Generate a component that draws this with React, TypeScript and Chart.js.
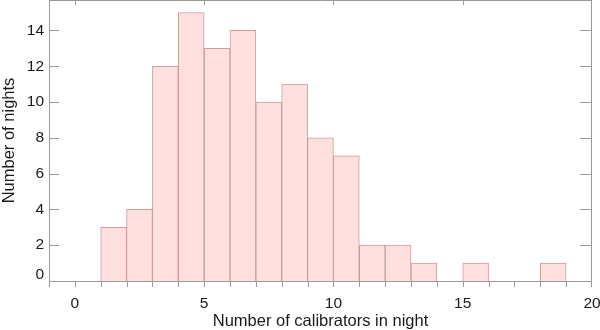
import React, { useEffect, useRef } from "react";
import { Chart, registerables } from "chart.js";

Chart.register(...registerables);

const binStarts = [1, 2, 3, 4, 5, 6, 7, 8, 9, 10, 11, 12, 13, 14, 15, 16, 17, 18];
const counts = [3, 4, 12, 15, 13, 14, 10, 11, 8, 7, 2, 2, 1, 0, 1, 0, 0, 1];
const xTickValues = [0, 5, 10, 15, 20];
const yTickValues = [0, 2, 4, 6, 8, 10, 12, 14];
const xTitle = "Number of calibrators in night";
const yTitle = "Number of nights";

const AXIS_COLOR = "#9a9a9a";
const TEXT_COLOR = "#1a1a1a";
const FONT = "'Liberation Sans', Arial, Helvetica, sans-serif";
const TICK_SIZE = 15.5;

const framePlugin = {
  id: "frameTicks",
  afterDatasetsDraw(chart: any) {
    const { ctx, chartArea } = chart;
    const xs = chart.scales.x;
    const ys = chart.scales.y;
    const { left, right, top, bottom } = chartArea;
    ctx.save();
    ctx.strokeStyle = AXIS_COLOR;
    ctx.lineWidth = 1;
    ctx.beginPath();
    ctx.moveTo(Math.round(left) + 0.5, top);
    ctx.lineTo(Math.round(left) + 0.5, bottom);
    ctx.moveTo(left, Math.round(top) + 0.5);
    ctx.lineTo(right, Math.round(top) + 0.5);
    ctx.moveTo(Math.round(right) - 0.5, top);
    ctx.lineTo(Math.round(right) - 0.5, bottom + 6);
    ctx.moveTo(left, Math.round(bottom) + 0.5);
    ctx.lineTo(right, Math.round(bottom) + 0.5);
    for (let v = Math.ceil(xs.min); v < xs.max; v++) {
      const px = Math.round(xs.getPixelForValue(v)) + 0.5;
      ctx.moveTo(px, bottom);
      ctx.lineTo(px, bottom + 6);
    }
    xTickValues.forEach((v) => {
      if (v <= xs.min || v >= xs.max) return;
      const px = Math.round(xs.getPixelForValue(v)) + 0.5;
      ctx.moveTo(px, top);
      ctx.lineTo(px, top + 5);
    });
    yTickValues.forEach((v) => {
      const py = Math.round(ys.getPixelForValue(v)) + 0.5;
      ctx.moveTo(left, py);
      ctx.lineTo(left + 10, py);
      ctx.moveTo(right - 12, py);
      ctx.lineTo(right, py);
    });
    ctx.stroke();
    // y tick labels (the bottom one is lifted clear of the x axis)
    ctx.fillStyle = TEXT_COLOR;
    ctx.font = `${TICK_SIZE}px ${FONT}`;
    ctx.textAlign = "right";
    ctx.textBaseline = "middle";
    yTickValues.forEach((v) => {
      const py = ys.getPixelForValue(v) + (v === ys.min ? -6 : 0);
      ctx.fillText(String(v), left - 5, py);
    });
    ctx.restore();
  },
};

export default function App() {
  const canvasRef = useRef<HTMLCanvasElement | null>(null);

  useEffect(() => {
    document.body.style.margin = "0";
    const canvas = canvasRef.current;
    if (!canvas) return;
    const chart = new Chart(canvas, {
      type: "bar",
      data: {
        datasets: [
          {
            data: binStarts.map((b, i) => ({ x: b + 0.5, y: counts[i] })),
            backgroundColor: "rgb(255,224,222)",
            borderColor: "rgba(195,140,140,0.85)",
            borderWidth: 1,
            borderSkipped: "start",
            barPercentage: 1,
            categoryPercentage: 1,
          },
        ],
      },
      options: {
        animation: false,
        responsive: true,
        maintainAspectRatio: false,
        layout: { padding: { left: 0, right: 8, top: 0, bottom: 0 } },
        plugins: { legend: { display: false }, tooltip: { enabled: false } },
        scales: {
          x: {
            type: "linear",
            min: -1,
            max: 20,
            offset: false,
            grid: { display: false, drawTicks: false },
            border: { display: false },
            afterBuildTicks: (s: any) => {
              s.ticks = xTickValues.map((v) => ({ value: v }));
            },
            afterFit: (s: any) => {
              s.height = 49;
              s.paddingLeft = 0;
              s.paddingRight = 0;
            },
            ticks: {
              autoSkip: false,
              maxRotation: 0,
              padding: 13,
              color: TEXT_COLOR,
              font: { family: FONT, size: TICK_SIZE },
              callback: (v: any) => String(v),
            },
            title: {
              display: true,
              text: xTitle,
              color: TEXT_COLOR,
              padding: 0,
              font: { family: FONT, size: 16.5, lineHeight: 1 },
            },
          },
          y: {
            type: "linear",
            min: 0,
            max: 15.7,
            grid: { display: false, drawTicks: false },
            border: { display: false },
            afterBuildTicks: (s: any) => {
              s.ticks = yTickValues.map((v) => ({ value: v }));
            },
            afterFit: (s: any) => {
              s.width = 49;
              s.paddingTop = 0;
              s.paddingBottom = 0;
            },
            ticks: {
              display: false,
              autoSkip: false,
            },
            title: {
              display: true,
              text: yTitle,
              color: TEXT_COLOR,
              padding: { top: 1, bottom: 0 },
              font: { family: FONT, size: 16.5, lineHeight: 1 },
            },
          },
        },
      },
      plugins: [framePlugin],
    });
    return () => chart.destroy();
  }, []);

  return (
    <div style={{ width: 600, height: 330, position: "relative", background: "#fff" }}>
      <canvas ref={canvasRef} />
    </div>
  );
}
